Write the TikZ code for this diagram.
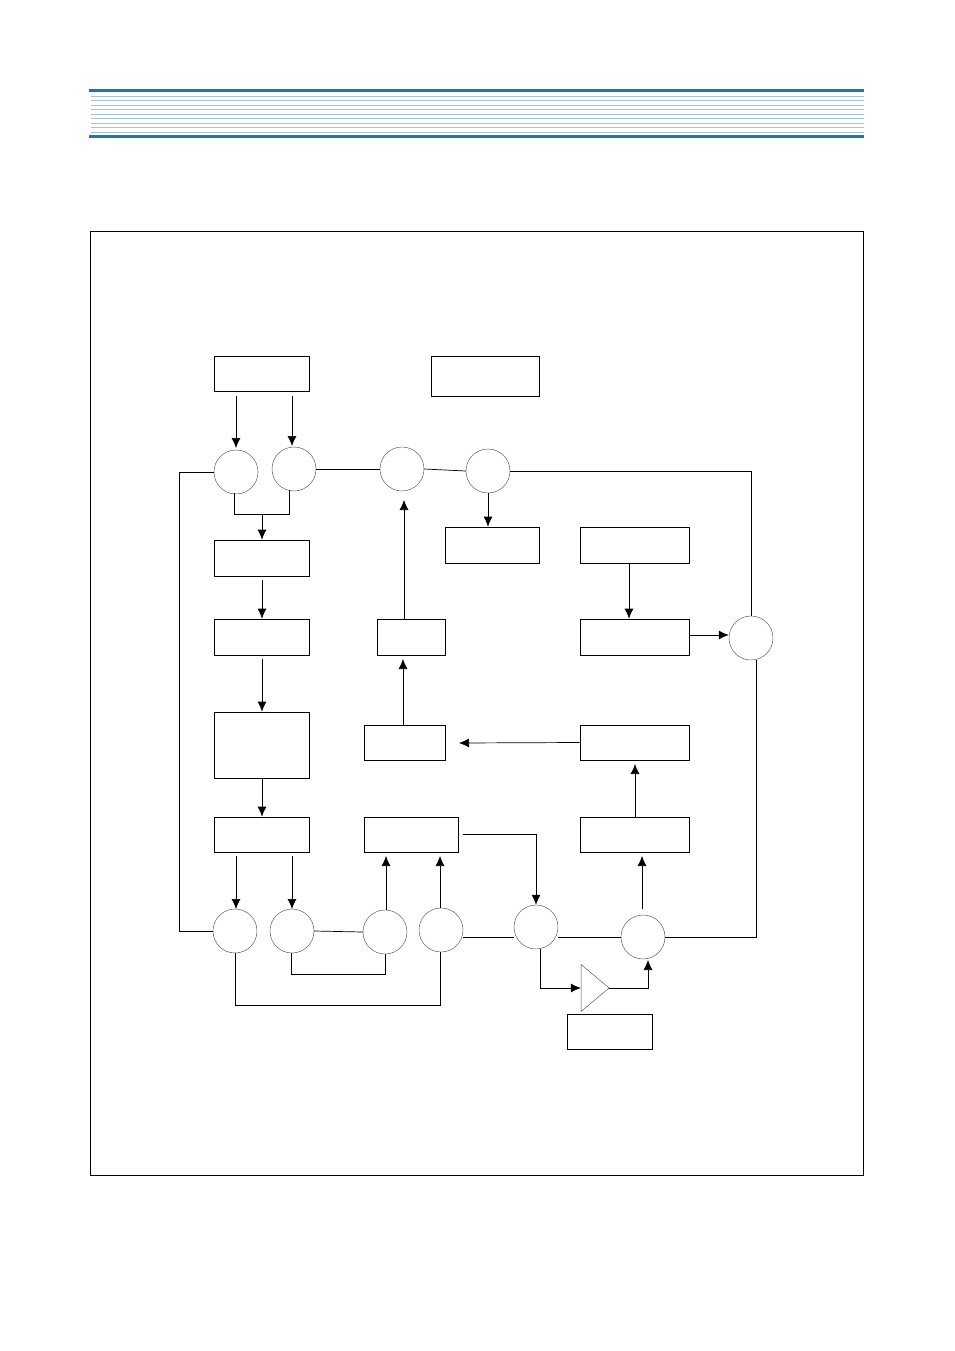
\documentclass[tikz,border=0pt]{standalone}
\usetikzlibrary{calc,shapes.geometric,arrows.meta}
\definecolor{barblue}{RGB}{20,125,160}
\definecolor{lineblue}{RGB}{170,195,210}
\tikzset{
	blk/.style={draw,rectangle,inner sep=0pt,line width=1pt},
	ring/.style={draw=black!70,circle,minimum size=22mm,inner sep=0pt,line width=0.6pt},
	arr/.style={-{Latex[length=5mm,width=4.5mm]},line width=1pt},
	wire/.style={line width=1pt}
}
\newcommand\blk[5]{\node (#1) at ({(#2+#4)/2},{(#3+#5)/2}) [blk,minimum width={(#4-#2)*0.5mm},minimum height={(#5-#3)*0.5mm}] {};}
\begin{document}
\begin{tikzpicture}[x=0.5mm,y=-0.5mm]
	\useasboundingbox (0,0) rectangle (954,1351);
	
	% header
	\fill[barblue] (89,89) rectangle (864,92);
	\fill[barblue] (89,135) rectangle (864,138);
	\foreach \y in {96,100.5,105,109.5,114,118.5,123,127.5,132}
		\draw[lineblue,line width=0.6pt] (91,\y) -- (864,\y);
	\node (frame) at (476.5,703) [draw,minimum width=386.5mm,minimum height=472mm,line width=0.8pt] {};
	
	% blocks
	\blk{b1}{214}{356}{309}{391}
	\blk{b2}{431}{356}{539}{396}
	\blk{b3}{214}{540}{309}{576}
	\blk{b4}{445}{527}{539}{563}
	\blk{b5}{580}{527}{689}{563}
	\blk{b6}{214}{619}{309}{655}
	\blk{b7}{377}{619}{445}{655}
	\blk{b8}{580}{619}{689}{655}
	\blk{b9}{214}{712}{309}{778}
	\blk{b10}{364}{725}{445}{760}
	\blk{b11}{580}{725}{689}{760}
	\blk{b12}{214}{817}{309}{852}
	\blk{b13}{364}{817}{458}{852}
	\blk{b14}{580}{817}{689}{852}
	\blk{b15}{567}{1014}{652}{1049}
	
	% junctions
	\foreach \n/\x/\y in {c1/236/472, c2/294/469, c3/402/469, c4/488/471, c5/751/638,
		c6/235/931, c7/292/931, c8/385/932, c9/441/930, c10/536/927, c11/643/937}
		\node (\n) at (\x,\y) [ring] {};
	\node (amp) at (592,988) [draw=black!70,isosceles triangle,isosceles triangle apex angle=80,
		minimum height=14mm,inner sep=0pt,line width=0.6pt] {};
	
	% upper row
	\draw[arr] (236,396) -- (236,448);
	\draw[arr] (292,396) -- (292,446);
	\draw[wire] (234,493) -- (234,514) -- (289,514) -- (289,490);
	\draw[arr] (262,514) -- (b3.north -| 262,0);
	\draw[wire] (c1.west) -- (179,472) |- (c6.west);
	\draw[wire] (c2.east) -- (c3.west);
	\draw[wire] (c3.east) -- (c4.west);
	\draw[wire] (c4.east) -| (c5.north);
	\draw[arr] (c4.south) -- (b4.north -| c4);
	
	% left column
	\draw[arr] (262,580) -- (b6.north -| 262,0);
	\draw[arr] (262,659) -- (b9.north -| 262,0);
	\draw[arr] (262,778) -- (b12.north -| 262,0);
	\draw[arr] (236,856) -- (236,909);
	\draw[arr] (292,856) -- (292,909);
	
	% middle
	\draw[arr] (b7.north -| 404,0) -- (404,500);
	\draw[arr] (b10.north -| 403,0) -- (403,659);
	\draw[arr] (b11.west) -- (459,743);
	\draw[arr] (b5.south -| 629,0) -- (b8.north -| 629,0);
	\draw[arr] (b8.east |- 0,635) -- (c5.west |- 0,635);
	\draw[wire] (756,660) -- (756,937) -- (c11.east);
	\draw[arr] (b14.north -| 635,0) -- (635,764);
	\draw[arr] (642,909) -- (642,856);
	
	% lower row
	\draw[wire] (c7.east) -- (c8.west);
	\draw[wire] (291,953) -- (291,974) -- (385,974) -- (c8.south);
	\draw[arr] (386,910) -- (386,856);
	\draw[arr] (440,908) -- (440,856);
	\draw[wire] (c6.south) -- (235,1005) -- (440,1005) -- (440,952);
	\draw[wire] (463,937) -- (514,937);
	\draw[arr] (463,834) -| (c10.north);
	\draw[wire] (558,937) -- (c11.west);
	\draw[arr] (540,949) |- (amp.west);
	\draw[arr] (amp.apex) -| (648,960);
\end{tikzpicture}
\end{document}
